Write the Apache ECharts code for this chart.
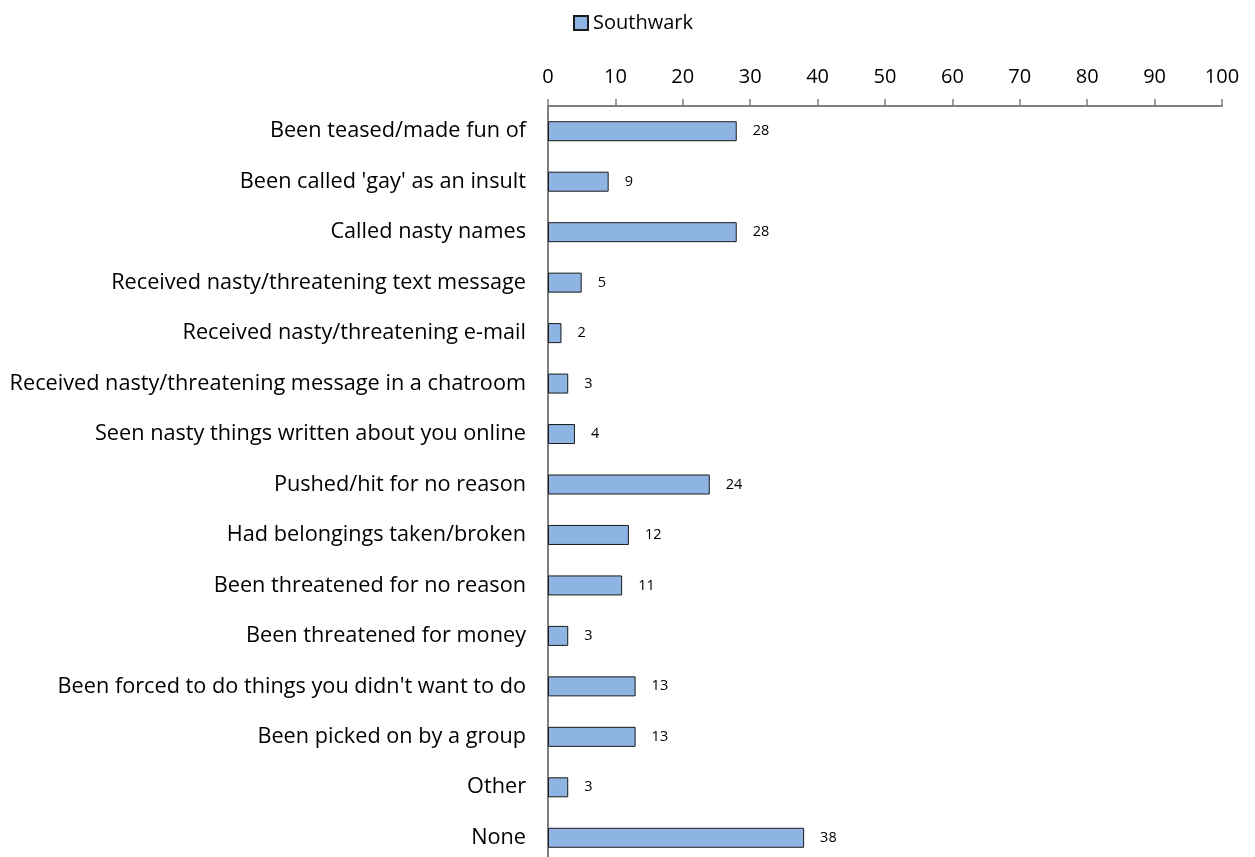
<!DOCTYPE html>
<html>
<head>
<meta charset="utf-8">
<script src="https://cdn.jsdelivr.net/npm/echarts@6/dist/echarts.min.js"></script>
<style>
  html, body { margin: 0; padding: 0; background: #fff; }
  #chart { width: 1255px; height: 857px; }
</style>
</head>
<body>
<div id="chart"></div>
<script>
// Bullying experiences reported, percentage of respondents
const categories = [
  "Been teased/made fun of",
  "Been called 'gay' as an insult",
  "Called nasty names",
  "Received nasty/threatening text message",
  "Received nasty/threatening e-mail",
  "Received nasty/threatening message in a chatroom",
  "Seen nasty things written about you online",
  "Pushed/hit for no reason",
  "Had belongings taken/broken",
  "Been threatened for no reason",
  "Been threatened for money",
  "Been forced to do things you didn't want to do",
  "Been picked on by a group",
  "Other",
  "None"
];
const southwark = [28, 9, 28, 5, 2, 3, 4, 24, 12, 11, 3, 13, 13, 3, 38];
const seriesName = "Southwark";

const font = "'Open Sans', sans-serif";
const chart = echarts.init(document.getElementById('chart'));
chart.setOption({
  animation: false,
  textStyle: { fontFamily: font },
  legend: {
    data: [{ name: seriesName, icon: 'rect' }],
    top: 8,
    left: 568,
    itemWidth: 14,
    itemHeight: 14,
    itemGap: 4,
    textStyle: { fontSize: 20, color: '#000', fontFamily: font }
  },
  grid: { left: 548, right: 33, top: 106, bottom: -6, containLabel: false, outerBoundsMode: 'none' },
  xAxis: {
    type: 'value',
    position: 'top',
    min: 0, max: 100, interval: 10,
    axisLine: { show: true, lineStyle: { color: '#7f7f7f', width: 2 } },
    axisTick: { show: true, length: 7, lineStyle: { color: '#7f7f7f', width: 1.5 } },
    axisLabel: { fontSize: 20, color: '#000', margin: 19, fontFamily: font },
    splitLine: { show: false }
  },
  yAxis: {
    type: 'category',
    inverse: true,
    data: categories,
    axisLine: { show: true, lineStyle: { color: '#7f7f7f', width: 2 } },
    axisTick: { show: false },
    axisLabel: { fontSize: 21.7, color: '#000', margin: 22, fontFamily: font }
  },
  series: [{
    name: seriesName,
    type: 'bar',
    data: southwark,
    barWidth: 20,
    itemStyle: { color: '#8EB4E3', borderColor: '#1a1a1a', borderWidth: 1 },
    label: {
      show: true, position: 'right', distance: 16,
      fontSize: 14.5, color: '#000', fontFamily: font
    }
  }]
});
</script>
</body>
</html>
